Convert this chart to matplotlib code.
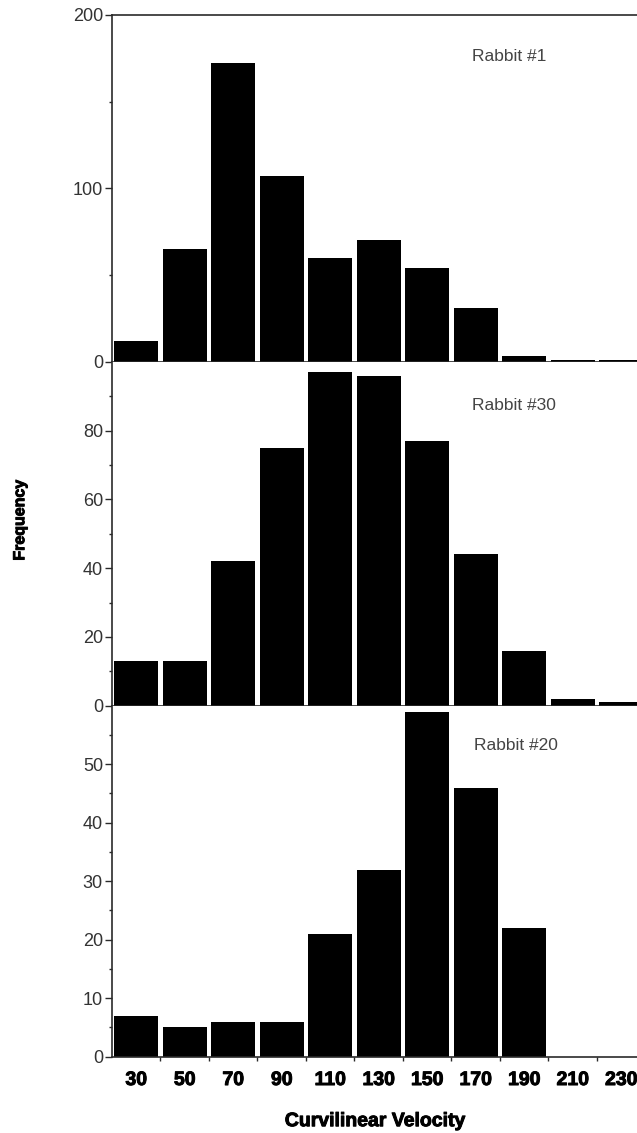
import numpy as np
import matplotlib
matplotlib.use("Agg")
import matplotlib.pyplot as plt
import matplotlib.patheffects as pe

plt.rcParams['font.family'] = ['Liberation Sans', 'DejaVu Sans']

# bin centres of curvilinear velocity
velocity = [30, 50, 70, 90, 110, 130, 150, 170, 190, 210, 230]

# frequencies
rabbit_1 = [12, 65, 172, 107, 60, 70, 54, 31, 3, 1, 1]
rabbit_30 = [13, 13, 42, 75, 97, 96, 77, 44, 16, 2, 1]
rabbit_20 = [7, 5, 6, 6, 21, 32, 59, 46, 22, 0, 0]

panels = [
    ("Rabbit #1", rabbit_1, 200, [0, 100, 200], [50, 150]),
    ("Rabbit #30", rabbit_30, 100, [0, 20, 40, 60, 80], [10, 30, 50, 70, 90]),
    ("Rabbit #20", rabbit_20, 60, [0, 10, 20, 30, 40, 50], [5, 15, 25, 35, 45, 55]),
]

edges = np.arange(40, 240, 20)
dark = "#2a2a2a"
# a thin stroke makes the bold labels look as heavy as in the print
heavy = [pe.withStroke(linewidth=0.7, foreground="black")]

fig = plt.figure(figsize=(6.37, 11.33), dpi=100)
# [left, bottom, width, height] for each panel, top to bottom
boxes = [
    [0.1758, 0.6808, 0.8242, 0.3060],
    [0.1758, 0.3771, 0.8242, 0.3036],
    [0.1758, 0.0673, 0.8242, 0.3098],
]

for i, (name, freq, ymax, major, minor) in enumerate(panels):
    ax = fig.add_axes(boxes[i])
    ax.bar(velocity, freq, width=18, color="black", edgecolor="none", zorder=2)
    ax.set_xlim(20, 236.5)
    ax.set_ylim(0, ymax)

    ax.set_yticks(major)
    ax.set_yticks(minor, minor=True)
    ax.tick_params(axis="y", which="major", length=5, width=1, color=dark,
                   labelsize=13, labelcolor="#333333", pad=1.5)
    ax.tick_params(axis="y", which="minor", length=2.5, width=1, color=dark)

    ax.set_xticks(edges)
    ax.tick_params(axis="x", which="major", length=3, width=1, color=dark,
                   labelbottom=False)
    if i == 2:
        ax.set_xticks(velocity, minor=True)
        labels = ax.set_xticklabels([str(v) for v in velocity], minor=True,
                                    fontsize=14, fontweight="bold")
        for t in labels:
            t.set_path_effects(heavy)
        ax.tick_params(axis="x", which="minor", length=0, pad=11)
    else:
        ax.set_xticks([], minor=True)

    for side in ["left", "bottom", "top"]:
        ax.spines[side].set_color(dark)
        ax.spines[side].set_linewidth(1.2)
    ax.spines["right"].set_visible(False)
    if i > 0:
        ax.spines["top"].set_visible(False)

    ax.text(0.686 if i < 2 else 0.69, [0.879, 0.874, 0.888][i], name,
            transform=ax.transAxes, ha="left", va="center",
            fontsize=12.5, color="#444444")

fig.text(0.031, 0.541, "Frequency", rotation=90, ha="center", va="center",
         fontsize=11.5, fontweight="bold", path_effects=heavy)
fig.text(0.589, 0.010, "Curvilinear Velocity", ha="center", va="center",
         fontsize=14, fontweight="bold", path_effects=heavy)

fig.savefig("out.png", dpi=100, facecolor="white")
